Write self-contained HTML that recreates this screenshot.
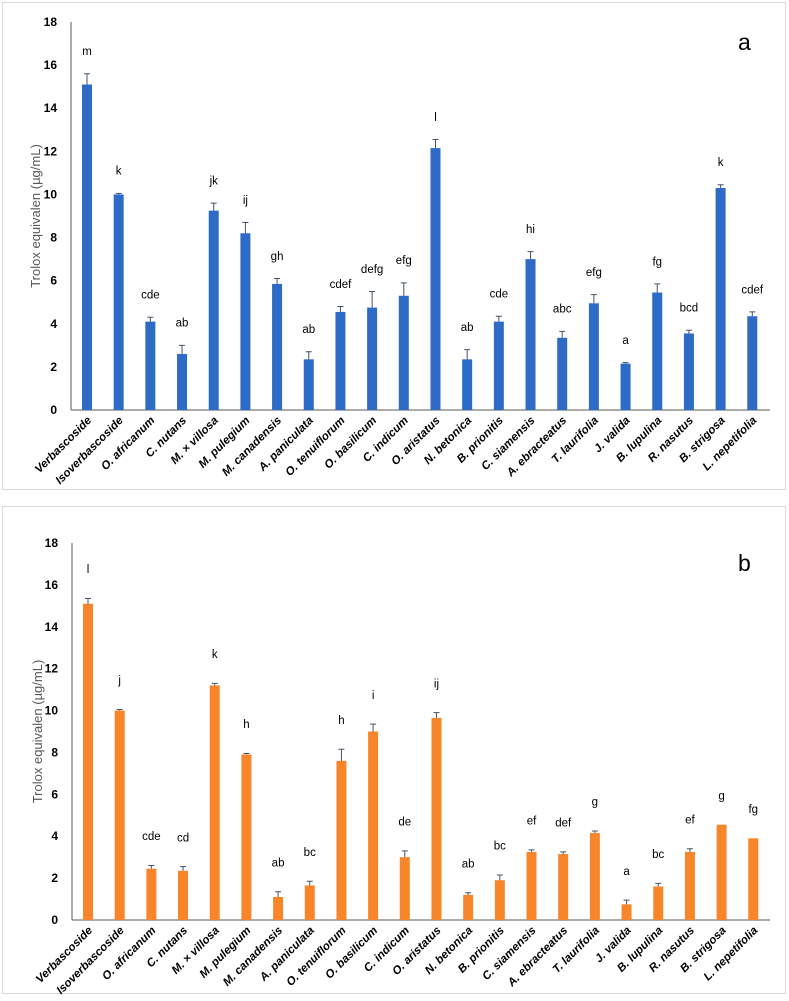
<!DOCTYPE html>
<html><head><meta charset="utf-8">
<style>
html,body{margin:0;padding:0;background:#fff;}
body{width:789px;height:996px;position:relative;overflow:hidden;font-family:"Liberation Sans",sans-serif;}
svg text{font-family:"Liberation Sans",sans-serif;}
</style></head>
<body>
<svg id="chart" width="789" height="996" xmlns="http://www.w3.org/2000/svg">
<rect x="2.5" y="2.5" width="783" height="487" fill="#fff" stroke="#d9d9d9"/>
<rect x="2.5" y="506.5" width="783" height="487" fill="#fff" stroke="#d9d9d9"/>
</svg>
<script>
const categories=["Verbascoside","Isoverbascoside","O. africanum","C. nutans","M. × villosa","M. pulegium","M. canadensis","A. paniculata","O. tenuiflorum","O. basilicum","C. indicum","O. aristatus","N. betonica","B. prionitis","C. siamensis","A. ebracteatus","T. laurifolia","J. valida","B. lupulina","R. nasutus","B. strigosa","L. nepetifolia"];
const valuesA=[15.1,10.0,4.1,2.6,9.25,8.2,5.85,2.35,4.55,4.75,5.3,12.15,2.35,4.1,7.0,3.35,4.95,2.15,5.45,3.55,10.3,4.35];
const errorsA=[0.5,0.05,0.2,0.4,0.35,0.5,0.25,0.35,0.25,0.75,0.6,0.4,0.45,0.25,0.35,0.3,0.4,0.05,0.4,0.15,0.15,0.2];
const lettersA=["m","k","cde","ab","jk","ij","gh","ab","cdef","defg","efg","l","ab","cde","hi","abc","efg","a","fg","bcd","k","cdef"];
const valuesB=[15.1,10.0,2.45,2.35,11.2,7.9,1.1,1.65,7.6,9.0,3.0,9.65,1.2,1.9,3.25,3.15,4.15,0.75,1.6,3.25,4.55,3.9];
const errorsB=[0.25,0.05,0.15,0.2,0.1,0.05,0.25,0.2,0.55,0.35,0.3,0.25,0.1,0.25,0.1,0.1,0.1,0.2,0.15,0.15,0.0,0.0];
const lettersB=["l","j","cde","cd","k","h","ab","bc","h","i","de","ij","ab","bc","ef","def","g","a","bc","ef","g","fg"];
const yTicks=[0,2,4,6,8,10,12,14,16,18];

const NS="http://www.w3.org/2000/svg";
const svg=document.getElementById('chart');
function mk(tag,attrs,parent){const e=document.createElementNS(NS,tag);for(const k in attrs)e.setAttribute(k,attrs[k]);(parent||svg).appendChild(e);return e;}

function drawPanel(p){
  const g=mk('g',{});
  
  
  const y=v=>p.y0-(v/18)*(p.y0-p.y18);
  const x=i=>p.x0+i*p.step;
  const ax=mk('line',{x1:p.axX,y1:p.y18,x2:p.axX,y2:p.y0,stroke:'#595959','stroke-width':1},g);
  
  
  const bx=mk('line',{x1:p.axX,y1:p.y0,x2:770,y2:p.y0,stroke:'#595959','stroke-width':1},g);
  
  
  yTicks.forEach(t=>{
    const tx=mk('text',{x:p.axX-14,y:y(t)+4,'text-anchor':'end','font-size':12,'font-weight':'bold',fill:'#000'},g);
    tx.textContent=t;
    
    
  });
  const tg=mk('g',{transform:`translate(${p.titleX},${(p.y0+p.y18)/2}) rotate(-90)`},g);
  const yt=mk('text',{x:0,y:0,'text-anchor':'middle','font-size':13,fill:'#595959'},tg);
  yt.textContent='Trolox equivalen (µg/mL)';
  
  
  const pl=mk('text',{x:738,y:p.y18+28,'font-size':23,fill:'#000'},g);
  pl.textContent=p.id;
  
  
  categories.forEach((c,i)=>{
    const v=p.vals[i],e=p.errs[i],cx=x(i);
    const r=mk('rect',{x:cx-5,y:y(v),width:10,height:p.y0-y(v),fill:p.color},g);
    
    
    if(e>0){
      const el=mk('path',{d:`M${cx},${y(v)} V${y(v+e)} M${cx-3},${y(v+e)} H${cx+3}`,stroke:'#44546a','stroke-width':1,fill:'none'},g);
      
      
    }
    const lt=mk('text',{x:cx,y:y(v+e+p.lblOff)+4,'text-anchor':'middle','font-size':11.5,fill:'#000'},g);
    lt.textContent=p.letters[i];
    
    
    const cg=mk('g',{transform:`translate(${cx+5},${p.y0+11}) rotate(-45)`},g);
    const ct=mk('text',{x:0,y:0,'text-anchor':'end','font-size':11.5,'font-weight':'bold','font-style':'italic',fill:'#000'},cg);
    ct.textContent=c;
    
    
  });
}
drawPanel({id:'a',vals:valuesA,errs:errorsA,letters:lettersA,color:'#2e6bc6',y0:410,y18:22,axX:71,x0:87,step:31.68,titleX:40,lblOff:1.05});
drawPanel({id:'b',vals:valuesB,errs:errorsB,letters:lettersB,color:'#f7862a',y0:920,y18:543,axX:72,x0:88,step:31.68,titleX:42,lblOff:1.4});
</script>
</body></html>
